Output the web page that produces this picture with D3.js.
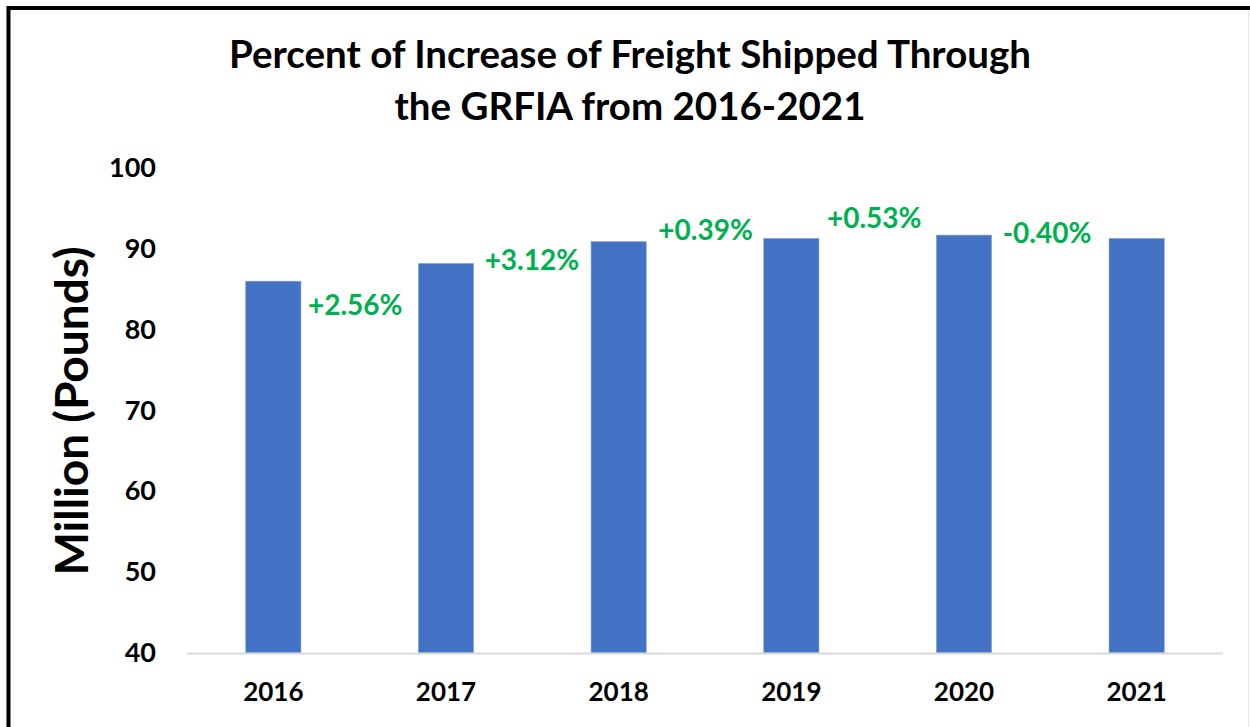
<!DOCTYPE html>
<html>
<head>
<meta charset="utf-8">
<script src="https://cdn.jsdelivr.net/npm/d3@7"></script>
<style>
  body { margin: 0; background: #fff; }
  text { font-family: Lato, "Open Sans", sans-serif; font-weight: bold; }
</style>
</head>
<body>
<svg id="chart"></svg>
<script>
// values
var years = ["2016", "2017", "2018", "2019", "2020", "2021"];
var freight = [86.0, 88.2, 90.9, 91.3, 91.7, 91.3];   // million pounds
var changes = ["+2.56%", "+3.12%", "+0.39%", "+0.53%", "-0.40%"];
var yTicks = [40, 50, 60, 70, 80, 90, 100];
var titleLines = ["Percent of Increase of Freight Shipped Through", "the GRFIA from 2016-2021"];

// hand placed text boxes in the original, offsets from the bar on the left
var labelDx = [7, 11, 12, 8, 11];
var labelDy = [34, 7, -2, -10, 8];

var W = 1250, H = 727;
var svg = d3.select('#chart')
    .attr('width', W)
    .attr('height', H);

svg.append("rect")
    .attr("width", W)
    .attr("height", H)
    .attr("fill", "white");

// frame around the chart
svg.append("path")
    .attr("d", "M8.5," + H + " L8.5,8 L" + W + ",8")
    .attr("fill", "none")
    .attr("stroke", "black")
    .attr("stroke-width", 4);
svg.append("line")
    .attr("x1", 1248.5).attr("x2", 1248.5)
    .attr("y1", 10).attr("y2", H)
    .attr("stroke", "#e6e6e6")
    .attr("stroke-width", 1);

var xs = d3.scaleBand()
    .domain(years)
    .range([187, 1223])
    .paddingInner(0.68)
    .paddingOuter(0.34);

var ys = d3.scaleLinear()
    .domain([40, 100])
    .range([653, 168]);

// title
svg.append("g").selectAll("text")
    .data(titleLines)
    .enter()
    .append("text")
        .attr("x", 630)
        .attr("y", (d, i) => 68 + i * 52)
        .attr("text-anchor", "middle")
        .style("font-size", "38.5px")
        .attr("fill", "black")
        .text(d => d);

// y axis, labels only
var yAxis = svg.append("g")
    .attr("transform", "translate(156,0)")
    .call(d3.axisLeft(ys).tickValues(yTicks).tickSize(0).tickPadding(0));
yAxis.select(".domain").remove();
yAxis.selectAll("text")
    .style("font-family", "Lato, sans-serif")
    .style("font-weight", "bold")
    .style("font-size", "27px")
    .attr("fill", "black");

svg.append("text")
    .attr("transform", "translate(88,411) rotate(-90)")
    .attr("text-anchor", "middle")
    .style("font-size", "46px")
    .attr("fill", "black")
    .text("Million (Pounds)");

// bars
svg.append("g")
    .selectAll("rect")
    .data(freight)
    .enter()
    .append("rect")
        .attr("x", (d, i) => xs(years[i]))
        .attr("y", d => ys(d))
        .attr("width", xs.bandwidth())
        .attr("height", d => ys(40) - ys(d))
        .attr("fill", "#4472C4")
        .attr("stroke", "#8FAADC")
        .attr("stroke-width", 0.6);

// baseline
svg.append("line")
    .attr("x1", 187).attr("x2", 1223)
    .attr("y1", ys(40) + 0.5).attr("y2", ys(40) + 0.5)
    .attr("stroke", "#D9D9D9")
    .attr("stroke-width", 2);

// x axis
var xAxis = svg.append("g")
    .attr("transform", "translate(0," + (ys(40) + 30) + ")")
    .call(d3.axisBottom(xs).tickSize(0).tickPadding(0));
xAxis.select(".domain").remove();
xAxis.selectAll("text")
    .attr("dy", "0.71em")
    .style("font-family", "Lato, sans-serif")
    .style("font-weight", "bold")
    .style("font-size", "26px")
    .attr("fill", "black");

// percent change labels
svg.append("g")
    .selectAll("text")
    .data(changes)
    .enter()
    .append("text")
        .attr("x", (d, i) => xs(years[i]) + xs.bandwidth() + labelDx[i])
        .attr("y", (d, i) => ys(freight[i]) + labelDy[i])
        .style("font-size", "28px")
        .attr("fill", "#00B050")
        .text(d => d);
</script>
</body>
</html>
